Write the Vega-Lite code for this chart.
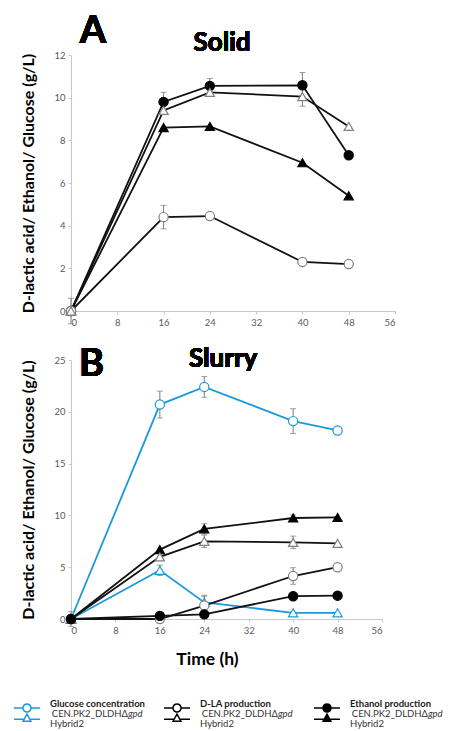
{
  "$schema": "https://vega.github.io/schema/vega-lite/v6.json",
  "padding": {"left": 11, "top": 13, "right": 0, "bottom": 0},
  "config": {
    "font": "Lato",
    "view": {"stroke": null},
    "axis": {
      "grid": false,
      "domainColor": "#c8c8c8",
      "tickColor": "#c8c8c8",
      "tickSize": 3,
      "labelFontSize": 9.5,
      "labelColor": "#595959",
      "labelPadding": 3,
      "titleFontSize": 16,
      "titleFontWeight": "bold",
      "titleColor": "#000000"
    }
  },
  "datasets": {
    "solid": [
      {"s": "Ethanol CEN", "t": 0, "v": 0, "e": 0},
      {"s": "Ethanol CEN", "t": 16, "v": 9.8, "e": 0.45},
      {"s": "Ethanol CEN", "t": 24, "v": 10.55, "e": 0.35},
      {"s": "Ethanol CEN", "t": 40, "v": 10.58, "e": 0.6},
      {"s": "Ethanol CEN", "t": 48, "v": 7.3, "e": 0},
      {"s": "Ethanol Hybrid2", "t": 0, "v": 0, "e": 0},
      {"s": "Ethanol Hybrid2", "t": 16, "v": 8.6, "e": 0},
      {"s": "Ethanol Hybrid2", "t": 24, "v": 8.65, "e": 0},
      {"s": "Ethanol Hybrid2", "t": 40, "v": 6.95, "e": 0},
      {"s": "Ethanol Hybrid2", "t": 48, "v": 5.4, "e": 0},
      {"s": "D-LA CEN", "t": 0, "v": 0, "e": 0},
      {"s": "D-LA CEN", "t": 16, "v": 4.4, "e": 0.55},
      {"s": "D-LA CEN", "t": 24, "v": 4.45, "e": 0.06},
      {"s": "D-LA CEN", "t": 40, "v": 2.3, "e": 0},
      {"s": "D-LA CEN", "t": 48, "v": 2.2, "e": 0},
      {"s": "D-LA Hybrid2", "t": 0, "v": 0, "e": 0.6},
      {"s": "D-LA Hybrid2", "t": 16, "v": 9.4, "e": 0},
      {"s": "D-LA Hybrid2", "t": 24, "v": 10.25, "e": 0.1},
      {"s": "D-LA Hybrid2", "t": 40, "v": 10.05, "e": 0.45},
      {"s": "D-LA Hybrid2", "t": 48, "v": 8.65, "e": 0}
    ],
    "slurry": [
      {"s": "Glucose CEN", "t": 0, "v": 0, "e": 0.3},
      {"s": "Glucose CEN", "t": 16, "v": 20.7, "e": 1.3},
      {"s": "Glucose CEN", "t": 24, "v": 22.4, "e": 1.0},
      {"s": "Glucose CEN", "t": 40, "v": 19.1, "e": 1.2},
      {"s": "Glucose CEN", "t": 48, "v": 18.2, "e": 0},
      {"s": "Glucose Hybrid2", "t": 0, "v": 0, "e": 0},
      {"s": "Glucose Hybrid2", "t": 16, "v": 4.7, "e": 0.5},
      {"s": "Glucose Hybrid2", "t": 24, "v": 1.6, "e": 0.6},
      {"s": "Glucose Hybrid2", "t": 40, "v": 0.6, "e": 0},
      {"s": "Glucose Hybrid2", "t": 48, "v": 0.6, "e": 0},
      {"s": "Ethanol Hybrid2", "t": 0, "v": 0, "e": 0},
      {"s": "Ethanol Hybrid2", "t": 16, "v": 6.7, "e": 0},
      {"s": "Ethanol Hybrid2", "t": 24, "v": 8.7, "e": 0.5},
      {"s": "Ethanol Hybrid2", "t": 40, "v": 9.75, "e": 0.3},
      {"s": "Ethanol Hybrid2", "t": 48, "v": 9.8, "e": 0},
      {"s": "D-LA Hybrid2", "t": 0, "v": 0, "e": 0},
      {"s": "D-LA Hybrid2", "t": 16, "v": 6.0, "e": 0},
      {"s": "D-LA Hybrid2", "t": 24, "v": 7.5, "e": 0.6},
      {"s": "D-LA Hybrid2", "t": 40, "v": 7.4, "e": 0.6},
      {"s": "D-LA Hybrid2", "t": 48, "v": 7.3, "e": 0},
      {"s": "D-LA CEN", "t": 0, "v": 0, "e": 0.7},
      {"s": "D-LA CEN", "t": 16, "v": 0, "e": 0},
      {"s": "D-LA CEN", "t": 24, "v": 1.3, "e": 1.0},
      {"s": "D-LA CEN", "t": 40, "v": 4.15, "e": 0.8},
      {"s": "D-LA CEN", "t": 48, "v": 5.0, "e": 0},
      {"s": "Ethanol CEN", "t": 0, "v": 0, "e": 0},
      {"s": "Ethanol CEN", "t": 16, "v": 0.3, "e": 0},
      {"s": "Ethanol CEN", "t": 24, "v": 0.45, "e": 0},
      {"s": "Ethanol CEN", "t": 40, "v": 2.2, "e": 0},
      {"s": "Ethanol CEN", "t": 48, "v": 2.25, "e": 0}
    ],
    "legend": [
      {"grp": "Glucose concentration", "row": "title"},
      {"grp": "Glucose concentration", "row": "CEN", "s": "Glucose CEN"},
      {"grp": "Glucose concentration", "row": "Hybrid2", "s": "Glucose Hybrid2"},
      {"grp": "D-LA production", "row": "title"},
      {"grp": "D-LA production", "row": "CEN", "s": "D-LA CEN"},
      {"grp": "D-LA production", "row": "Hybrid2", "s": "D-LA Hybrid2"},
      {"grp": "Ethanol production", "row": "title"},
      {"grp": "Ethanol production", "row": "CEN", "s": "Ethanol CEN"},
      {"grp": "Ethanol production", "row": "Hybrid2", "s": "Ethanol Hybrid2"}
    ]
  },
  "bounds": "flush",
  "spacing": 49,
  "resolve": {"scale": {"x": "independent", "y": "independent", "color": "independent", "shape": "independent", "fill": "independent", "stroke": "independent"}},
  "vconcat": [
    {
      "width": 324,
      "height": 256,
      "data": {"name": "solid"},
      "encoding": {
        "x": {"field": "t", "type": "quantitative", "scale": {"domain": [0, 56], "nice": false}, "axis": {"values": [0, 8, 16, 24, 32, 40, 48, 56], "title": null}},
        "y": {"field": "v", "type": "quantitative", "scale": {"domain": [0, 12], "nice": false}, "axis": {"values": [0, 2, 4, 6, 8, 10, 12], "title": "D-lactic acid/ Ethanol/ Glucose (g/L)", "titlePadding": 17}}
      },
      "layer": [
        {
          "mark": {"type": "line", "strokeWidth": 1.8},
          "encoding": {
            "color": {"field": "s", "type": "nominal", "legend": null, "scale": {"domain": ["Glucose CEN", "Glucose Hybrid2", "D-LA CEN", "D-LA Hybrid2", "Ethanol CEN", "Ethanol Hybrid2"], "range": ["#1a9ad9", "#1a9ad9", "#111111", "#111111", "#111111", "#111111"]}}
          }
        },
        {
          "transform": [{"filter": "datum.e > 0"}],
          "mark": {"type": "errorbar", "color": "#7a7a7a", "thickness": 1, "ticks": {"size": 6, "color": "#7a7a7a"}},
          "encoding": {
            "x": {"field": "t", "type": "quantitative"},
            "y": {"field": "v", "type": "quantitative"},
            "yError": {"field": "e"}
          }
        },
        {
          "mark": {"type": "point", "filled": true, "size": 85, "strokeWidth": 1.2, "opacity": 1},
          "encoding": {
            "shape": {"field": "s", "type": "nominal", "legend": null, "scale": {"domain": ["Glucose CEN", "Glucose Hybrid2", "D-LA CEN", "D-LA Hybrid2", "Ethanol CEN", "Ethanol Hybrid2"], "range": ["circle", "triangle-up", "circle", "triangle-up", "circle", "triangle-up"]}},
            "fill": {"field": "s", "type": "nominal", "legend": null, "scale": {"domain": ["Glucose CEN", "Glucose Hybrid2", "D-LA CEN", "D-LA Hybrid2", "Ethanol CEN", "Ethanol Hybrid2"], "range": ["#ffffff", "#ffffff", "#ffffff", "#ffffff", "#000000", "#000000"]}},
            "stroke": {"field": "s", "type": "nominal", "legend": null, "scale": {"domain": ["Glucose CEN", "Glucose Hybrid2", "D-LA CEN", "D-LA Hybrid2", "Ethanol CEN", "Ethanol Hybrid2"], "range": ["#1a9ad9", "#1a9ad9", "#808080", "#808080", "#000000", "#000000"]}}
          }
        },
        {
          "mark": {"type": "text", "text": "A", "fontSize": 38, "fontWeight": "bold", "align": "center", "baseline": "alphabetic"},
          "encoding": {"x": {"datum": 3.8}, "y": {"datum": 12.55}}
        },
        {
          "mark": {"type": "text", "text": "Solid", "fontSize": 26, "fontWeight": "bold", "align": "center", "baseline": "alphabetic"},
          "encoding": {"x": {"datum": 26.1}, "y": {"datum": 12.19}}
        }
      ]
    },
    {
      "width": 311,
      "height": 259,
      "data": {"name": "slurry"},
      "encoding": {
        "x": {"field": "t", "type": "quantitative", "scale": {"domain": [0, 56], "nice": false}, "axis": {"values": [0, 8, 16, 24, 32, 40, 48, 56], "title": "Time (h)", "titleFontSize": 17.5, "titleX": 136, "titleY": 45, "titleBaseline": "alphabetic"}},
        "y": {"field": "v", "type": "quantitative", "scale": {"domain": [0, 25], "nice": false}, "axis": {"values": [0, 5, 10, 15, 20, 25], "title": "D-lactic acid/ Ethanol/ Glucose (g/L)", "titlePadding": 17}}
      },
      "layer": [
        {
          "mark": {"type": "line", "strokeWidth": 1.8},
          "encoding": {
            "color": {"field": "s", "type": "nominal", "legend": null, "scale": {"domain": ["Glucose CEN", "Glucose Hybrid2", "D-LA CEN", "D-LA Hybrid2", "Ethanol CEN", "Ethanol Hybrid2"], "range": ["#1a9ad9", "#1a9ad9", "#111111", "#111111", "#111111", "#111111"]}}
          }
        },
        {
          "transform": [{"filter": "datum.e > 0"}],
          "mark": {"type": "errorbar", "color": "#7a7a7a", "thickness": 1, "ticks": {"size": 6, "color": "#7a7a7a"}},
          "encoding": {
            "x": {"field": "t", "type": "quantitative"},
            "y": {"field": "v", "type": "quantitative"},
            "yError": {"field": "e"}
          }
        },
        {
          "mark": {"type": "point", "filled": true, "size": 85, "strokeWidth": 1.2, "opacity": 1},
          "encoding": {
            "shape": {"field": "s", "type": "nominal", "legend": null, "scale": {"domain": ["Glucose CEN", "Glucose Hybrid2", "D-LA CEN", "D-LA Hybrid2", "Ethanol CEN", "Ethanol Hybrid2"], "range": ["circle", "triangle-up", "circle", "triangle-up", "circle", "triangle-up"]}},
            "fill": {"field": "s", "type": "nominal", "legend": null, "scale": {"domain": ["Glucose CEN", "Glucose Hybrid2", "D-LA CEN", "D-LA Hybrid2", "Ethanol CEN", "Ethanol Hybrid2"], "range": ["#ffffff", "#ffffff", "#ffffff", "#ffffff", "#000000", "#000000"]}},
            "stroke": {"field": "s", "type": "nominal", "legend": null, "scale": {"domain": ["Glucose CEN", "Glucose Hybrid2", "D-LA CEN", "D-LA Hybrid2", "Ethanol CEN", "Ethanol Hybrid2"], "range": ["#1a9ad9", "#1a9ad9", "#808080", "#808080", "#000000", "#000000"]}}
          }
        },
        {
          "mark": {"type": "text", "text": "B", "fontSize": 38, "fontWeight": "bold", "align": "center", "baseline": "alphabetic"},
          "encoding": {"x": {"datum": 3.7}, "y": {"datum": 23.45}}
        },
        {
          "mark": {"type": "text", "text": "Slurry", "fontSize": 26, "fontWeight": "bold", "align": "center", "baseline": "alphabetic"},
          "encoding": {"x": {"datum": 27.4}, "y": {"datum": 24.3}}
        }
      ]
    },
    {
      "width": 300,
      "height": 56,
      "data": {"name": "legend"},
      "encoding": {
        "x": {"field": "grp", "type": "nominal", "axis": null, "scale": {"type": "point", "padding": 0, "domain": ["Glucose concentration", "D-LA production", "Ethanol production"]}},
        "y": {"field": "row", "type": "nominal", "axis": null, "scale": {"type": "point", "padding": 0, "domain": ["title", "CEN", "Hybrid2"], "range": [36, 56]}}
      },
      "layer": [
        {
          "transform": [{"filter": "datum.row == 'title'"}],
          "mark": {"type": "text", "align": "left", "baseline": "middle", "dx": -21, "fontSize": 9.5, "fontWeight": "bold", "color": "#1a1a1a"},
          "encoding": {"text": {"field": "grp"}}
        },
        {
          "transform": [{"filter": "datum.row == 'Hybrid2'"}],
          "mark": {"type": "text", "align": "left", "baseline": "middle", "dx": -21, "fontSize": 9.5, "color": "#333333"},
          "encoding": {"text": {"field": "row"}}
        },
        {
          "transform": [{"filter": "datum.row == 'CEN'"}],
          "mark": {"type": "text", "align": "right", "baseline": "middle", "dx": 57, "fontSize": 9.5, "color": "#333333", "text": "CEN.PK2_DLDHΔ"},
          "encoding": {}
        },
        {
          "transform": [{"filter": "datum.row == 'CEN'"}],
          "mark": {"type": "text", "align": "left", "baseline": "middle", "dx": 57, "fontSize": 9.5, "fontStyle": "italic", "color": "#333333", "text": "gpd"},
          "encoding": {}
        },
        {
          "transform": [{"filter": "datum.row != 'title'"}],
          "mark": {"type": "point", "filled": true, "size": 676, "strokeWidth": 1.5, "opacity": 1},
          "encoding": {
            "xOffset": {"value": -44},
            "yOffset": {"value": -6},
            "shape": {"field": "s", "type": "nominal", "legend": null, "scale": {"domain": ["Glucose CEN", "Glucose Hybrid2", "D-LA CEN", "D-LA Hybrid2", "Ethanol CEN", "Ethanol Hybrid2"], "range": ["M-1,0H-0.31M0.31,0H1M0.31,0A0.31,0.31,0,1,1,-0.31,0A0.31,0.31,0,1,1,0.31,0", "M-1,0.1H-0.22M0.22,0.1H1M0,-0.3L0.3,0.25L-0.3,0.25Z", "M-1,0H-0.31M0.31,0H1M0.31,0A0.31,0.31,0,1,1,-0.31,0A0.31,0.31,0,1,1,0.31,0", "M-1,0.1H-0.22M0.22,0.1H1M0,-0.3L0.3,0.25L-0.3,0.25Z", "M-1,0H1M0.31,0A0.31,0.31,0,1,1,-0.31,0A0.31,0.31,0,1,1,0.31,0", "M-1,0.1H1M0,-0.3L0.3,0.25L-0.3,0.25Z"]}},
            "fill": {"field": "s", "type": "nominal", "legend": null, "scale": {"domain": ["Glucose CEN", "Glucose Hybrid2", "D-LA CEN", "D-LA Hybrid2", "Ethanol CEN", "Ethanol Hybrid2"], "range": ["#ffffff", "#ffffff", "#ffffff", "#ffffff", "#000000", "#000000"]}},
            "stroke": {"field": "s", "type": "nominal", "legend": null, "scale": {"domain": ["Glucose CEN", "Glucose Hybrid2", "D-LA CEN", "D-LA Hybrid2", "Ethanol CEN", "Ethanol Hybrid2"], "range": ["#1a9ad9", "#1a9ad9", "#000000", "#000000", "#000000", "#000000"]}}
          }
        }
      ]
    }
  ]
}
